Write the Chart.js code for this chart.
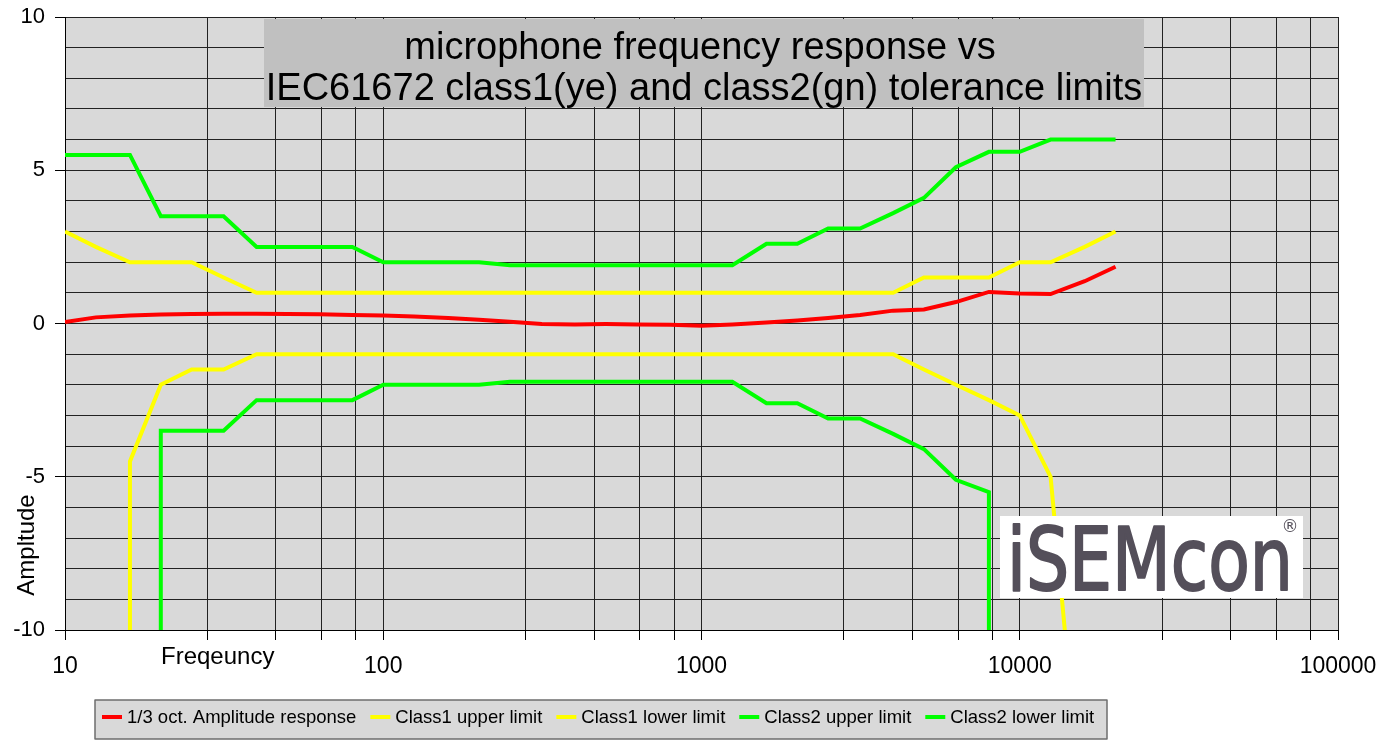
<!DOCTYPE html>
<html>
<head>
<meta charset="utf-8">
<script src="https://cdn.jsdelivr.net/npm/chart.js@4.4.0/dist/chart.umd.min.js"></script>
<style>
html, body { margin: 0; padding: 0; background: #fff; }
canvas { display: block; }
</style>
</head>
<body>
<canvas id="response" width="1396" height="742"></canvas>
<script>
// 1/3 octave centre frequencies (Hz)
const freqs = [10, 12.5, 16, 20, 25, 31.5, 40, 50, 63, 80, 100, 125, 160, 200, 250, 315, 400, 500, 630, 800,
    1000, 1250, 1600, 2000, 2500, 3150, 4000, 5000, 6300, 8000, 10000, 12500, 16000, 20000];

// measured microphone response (dB)
const response = [0.05, 0.2, 0.26, 0.29, 0.31, 0.32, 0.32, 0.31, 0.3, 0.28, 0.26, 0.23, 0.18, 0.12, 0.06, -0.02, -0.03, -0.02, -0.03, -0.04,
    -0.07, -0.03, 0.03, 0.1, 0.18, 0.28, 0.42, 0.46, 0.7, 1.03, 0.98, 0.96, 1.38, 1.85];

const class1Upper = [3, 2.5, 2, 2, 2, 1.5, 1, 1, 1, 1, 1, 1, 1, 1, 1, 1, 1, 1, 1, 1,
    1, 1, 1, 1, 1, 1, 1, 1.5, 1.5, 1.5, 2, 2, 2.5, 3];
const class2Upper = [5.5, 5.5, 5.5, 3.5, 3.5, 3.5, 2.5, 2.5, 2.5, 2.5, 2, 2, 2, 2, 1.9, 1.9, 1.9, 1.9, 1.9, 1.9,
    1.9, 1.9, 2.6, 2.6, 3.1, 3.1, 3.6, 4.1, 5.1, 5.6, 5.6, 6, 6, 6];

// lower limits drop to -inf at the band edges, so they keep their own frequency lists
const class1LowerFreqs = [16, 16, 20, 25, 31.5, 40, 50, 63, 80, 100, 125, 160, 200, 250, 315, 400, 500, 630, 800,
    1000, 1250, 1600, 2000, 2500, 3150, 4000, 5000, 6300, 8000, 10000, 12500, 16000];
const class1Lower = [-40, -4.5, -2, -1.5, -1.5, -1, -1, -1, -1, -1, -1, -1, -1, -1, -1, -1, -1, -1, -1,
    -1, -1, -1, -1, -1, -1, -1, -1.5, -2, -2.5, -3, -5, -17];

const class2LowerFreqs = [20, 20, 25, 31.5, 40, 50, 63, 80, 100, 125, 160, 200, 250, 315, 400, 500, 630, 800,
    1000, 1250, 1600, 2000, 2500, 3150, 4000, 5000, 6300, 8000, 8000];
const class2Lower = [-40, -3.5, -3.5, -3.5, -2.5, -2.5, -2.5, -2.5, -2, -2, -2, -2, -1.9, -1.9, -1.9, -1.9, -1.9, -1.9,
    -1.9, -1.9, -2.6, -2.6, -3.1, -3.1, -3.6, -4.1, -5.1, -5.5, -40];

const seriesNames = ['1/3 oct. Amplitude response', 'Class1 upper limit', 'Class1 lower limit', 'Class2 upper limit', 'Class2 lower limit'];

// axis ticks
const xGrid = [10, 28, 46, 64, 82, 100, 280, 460, 640, 820, 1000, 2800, 4600, 6400, 8200, 10000,
    28000, 46000, 64000, 82000, 100000];
const xLabels = [10, 100, 1000, 10000, 100000];
const yLabels = [-10, -5, 0, 5, 10];

const titleLines = ['microphone frequency response vs', 'IEC61672 class1(ye) and class2(gn) tolerance limits'];

function pts(xs, ys) {
    return xs.map((x, i) => ({x: x, y: ys[i]}));
}

function line(label, xs, ys, color) {
    return {
        label: label,
        data: pts(xs, ys),
        borderColor: color,
        backgroundColor: color,
        borderWidth: 4,
        pointRadius: 0,
        showLine: true,
        tension: 0
    };
}

const FONT = '"Liberation Sans", Arial, sans-serif';

const decor = {
    id: 'decor',
    beforeDraw: (chart) => {
        const ctx = chart.ctx;
        const a = chart.chartArea;
        ctx.save();
        ctx.fillStyle = '#fff';
        ctx.fillRect(0, 0, chart.width, chart.height);
        ctx.fillStyle = '#d9d9d9';
        ctx.fillRect(a.left, a.top, a.right - a.left, a.bottom - a.top);
        ctx.restore();
    },
    afterDraw: (chart) => {
        const ctx = chart.ctx;
        ctx.save();

        // title box
        ctx.fillStyle = '#c0c0c0';
        ctx.fillRect(264, 19, 880, 88);
        ctx.fillStyle = '#000';
        ctx.font = '38px ' + FONT;
        ctx.textAlign = 'center';
        ctx.textBaseline = 'alphabetic';
        ctx.fillText(titleLines[0], 700, 59, 596);
        ctx.fillText(titleLines[1], 704, 100, 878);

        // axis titles
        ctx.font = '24px ' + FONT;
        ctx.textAlign = 'left';
        ctx.fillText('Freqeuncy', 161, 664);
        ctx.save();
        ctx.translate(34, 545);
        ctx.rotate(-Math.PI / 2);
        ctx.textAlign = 'center';
        ctx.fillText('Ampltude', 0, 0);
        ctx.restore();

        // logo
        ctx.fillStyle = '#fff';
        ctx.fillRect(1000, 516, 303, 82);
        ctx.fillStyle = '#544f5a';
        ctx.strokeStyle = '#544f5a';
        ctx.lineWidth = 2;
        ctx.lineJoin = 'round';
        ctx.font = '88px "DejaVu Sans", sans-serif';
        ctx.textAlign = 'left';
        ctx.fillText('iSEMcon', 1007, 590, 286);
        ctx.strokeText('iSEMcon', 1007, 590, 286);
        ctx.font = '17px "DejaVu Sans", sans-serif';
        ctx.textAlign = 'center';
        ctx.fillText('®', 1290, 532);

        // legend
        ctx.fillStyle = '#d9d9d9';
        ctx.fillRect(95, 700, 1012, 39);
        ctx.strokeStyle = '#6e6e6e';
        ctx.lineWidth = 1.5;
        ctx.strokeRect(95, 700, 1012, 39);
        ctx.font = '18.5px ' + FONT;
        ctx.textAlign = 'left';
        ctx.textBaseline = 'middle';
        let x = 102;
        chart.data.datasets.forEach((ds) => {
            ctx.strokeStyle = ds.borderColor;
            ctx.lineWidth = 4;
            ctx.beginPath();
            ctx.moveTo(x, 717);
            ctx.lineTo(x + 20, 717);
            ctx.stroke();
            ctx.fillStyle = '#000';
            ctx.fillText(ds.label, x + 25, 718);
            x += 25 + ctx.measureText(ds.label).width + 14;
        });
        ctx.restore();
    }
};

const config = {
    type: 'scatter',
    data: {
        datasets: [
            line(seriesNames[0], freqs, response, '#ff0000'),
            line(seriesNames[1], freqs, class1Upper, '#ffff00'),
            line(seriesNames[2], class1LowerFreqs, class1Lower, '#ffff00'),
            line(seriesNames[3], freqs, class2Upper, '#00ff00'),
            line(seriesNames[4], class2LowerFreqs, class2Lower, '#00ff00')
        ]
    },
    plugins: [decor],
    options: {
        responsive: false,
        animation: false,
        layout: {padding: {top: 17, right: 58, left: 0, bottom: 0}},
        plugins: {
            legend: {display: false},
            tooltip: {enabled: false}
        },
        scales: {
            x: {
                type: 'logarithmic',
                min: 10,
                max: 100000,
                afterBuildTicks: (scale) => {
                    scale.ticks = xGrid.map(v => ({value: v}));
                },
                afterFit: (scale) => { scale.height = 112; },
                grid: {color: '#222', lineWidth: 1, tickLength: 10, tickColor: '#000'},
                border: {color: '#000', width: 1},
                ticks: {
                    autoSkip: false,
                    maxRotation: 0,
                    padding: 13,
                    color: '#000',
                    font: {family: FONT, size: 23},
                    callback: (v) => xLabels.includes(v) ? String(v) : ''
                }
            },
            y: {
                min: -10,
                max: 10,
                afterFit: (scale) => {
                    scale.width = 65;
                    scale.paddingTop = 0;
                    scale.paddingBottom = 0;
                },
                grid: {
                    color: '#222',
                    lineWidth: 1,
                    tickLength: 10,
                    tickColor: (c) => yLabels.includes(c.tick.value) ? '#000' : 'rgba(0,0,0,0)'
                },
                border: {color: '#000', width: 1},
                ticks: {
                    stepSize: 1,
                    autoSkip: false,
                    padding: 10,
                    color: '#000',
                    font: {family: FONT, size: 22},
                    callback: (v) => yLabels.includes(v) ? String(v) : ''
                }
            }
        }
    }
};

const myChart = new Chart(document.getElementById('response'), config);
</script>
</body>
</html>
